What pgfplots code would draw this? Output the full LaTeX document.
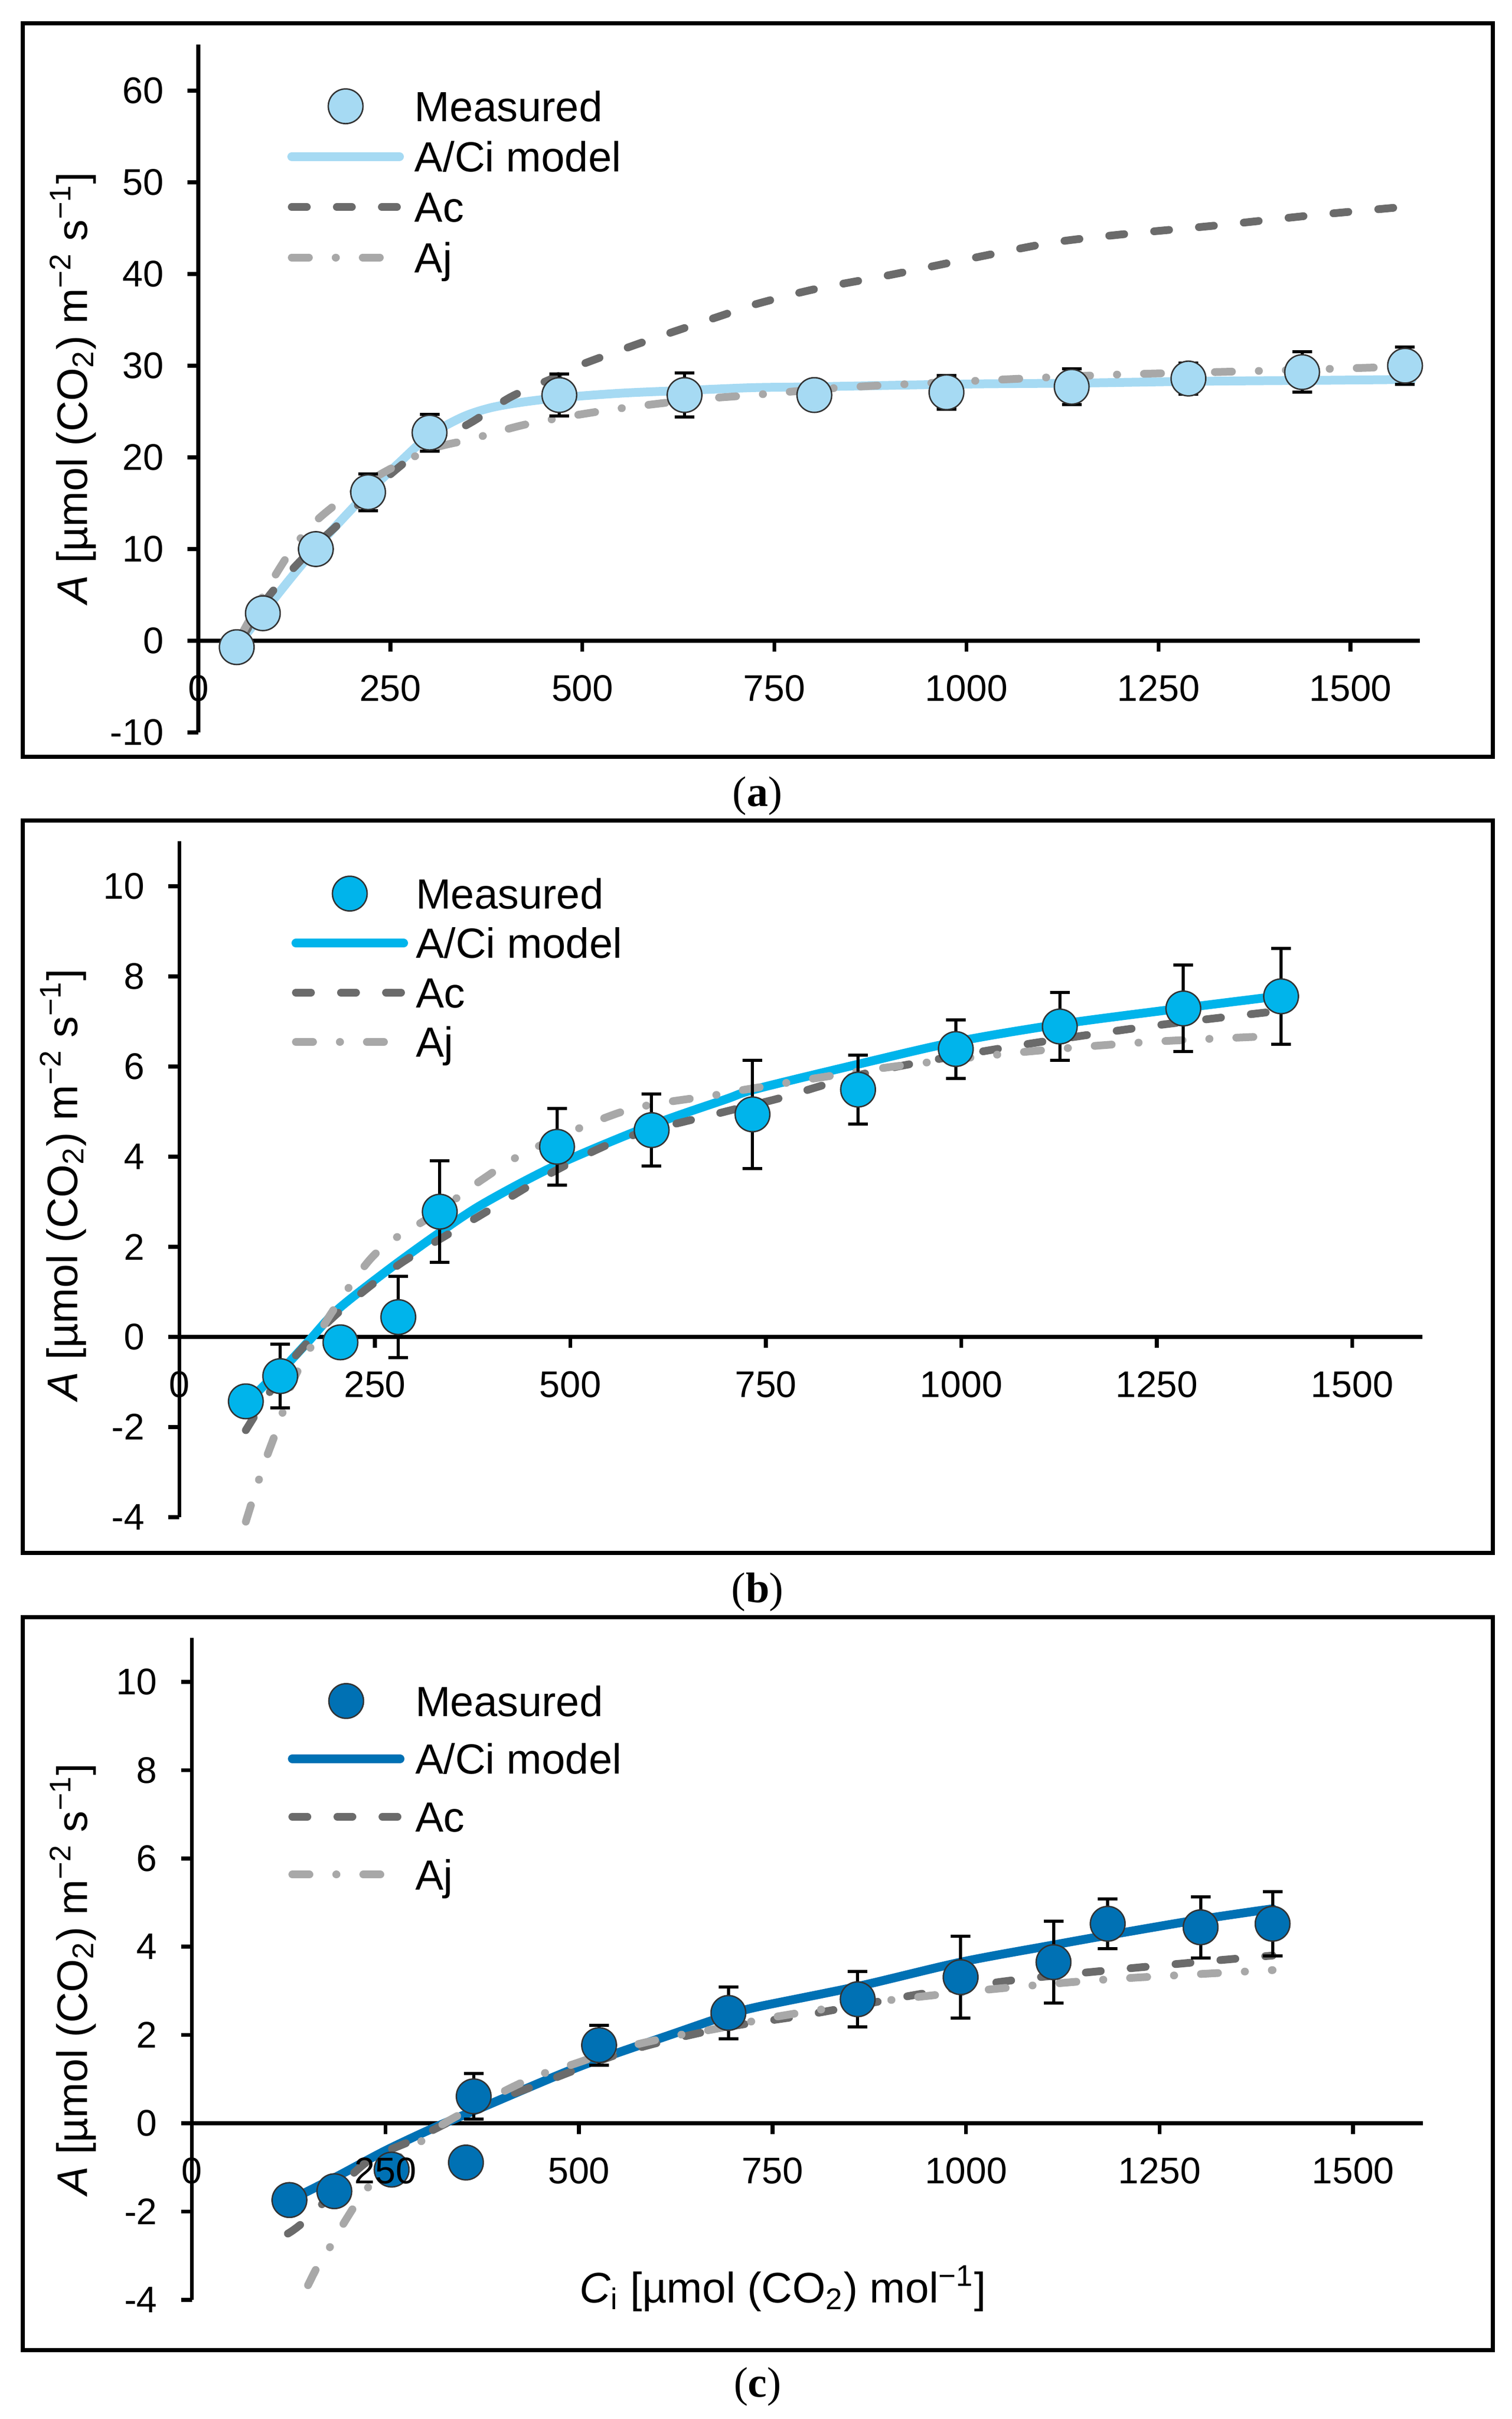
\documentclass[border=0pt]{standalone}
\usepackage{fontspec}
\setmainfont{Liberation Sans}
\newfontfamily\capfont{Liberation Serif}
\usepackage{pgfplots}
\pgfplotsset{compat=1.18}
\usepackage{pgfplotstable}

\definecolor{ca}{HTML}{A6DAF3}
\definecolor{cb}{HTML}{00B4EB}
\definecolor{cc}{HTML}{0071B4}
\definecolor{acc}{HTML}{6B6B6B}
\definecolor{ajc}{HTML}{A8A8A8}
\definecolor{edgec}{HTML}{333333}

% ---------- panel a ----------
\pgfplotstableread{
x y e
50 -0.7 0.4
84 3.0 0.4
153 10.0 0.5
221 16.2 2.0
301 22.7 2.0
470 26.8 2.3
633 26.8 2.4
802 26.8 0.5
974 27.1 1.85
1137 27.7 1.95
1289 28.6 1.7
1437 29.3 2.2
1571 30.0 2.05
}\measA
\pgfplotstableread{
x y
50 -0.6
84 3.0
120 6.8
153 10.1
190 13.5
221 16.2
260 19.3
301 22.4
344 24.4
380 25.4
420 26.0
470 26.5
550 27.0
633 27.3
720 27.6
800 27.7
1000 28.0
1143 28.1
1300 28.3
1450 28.4
1580 28.5
}\modA
\pgfplotstableread{
x y
55 0.0
93 5.0
150 10.2
181 12.6
244 17.7
294 21.0
357 23.9
407 26.6
469 28.9
495 30.0
580 32.6
686 35.6
721 36.6
800 38.3
901 39.9
1000 41.6
1110 43.4
1200 44.3
1326 45.3
1450 46.4
1567 47.3
}\acA
\pgfplotstableread{
x y
55 0.5
87 5.3
119 9.6
150 12.8
189 15.5
238 18.2
303 20.9
356 22.0
432 23.7
537 25.2
646 26.3
722 26.8
836 27.6
999 28.3
1185 29.0
1368 29.4
1571 29.9
}\ajA

% ---------- panel b ----------
\pgfplotstableread{
x y e
85 -1.43 0.3
129 -0.87 0.71
206 -0.12 0.3
280 0.44 0.9
333 2.78 1.13
483 4.22 0.85
604 4.59 0.8
733 4.94 1.2
868 5.49 0.77
993 6.39 0.65
1126 6.89 0.75
1284 7.29 0.96
1409 7.56 1.06
}\measB
\pgfplotstableread{
x y
85 -1.5
110 -1.05
130 -0.75
165 -0.1
202 0.6
264 1.45
325 2.22
387 2.94
483 3.82
604 4.70
698 5.27
737 5.5
865 6.04
993 6.55
1126 6.94
1284 7.3
1404 7.56
}\modB
\pgfplotstableread{
x y
85 -2.07
141 -0.58
202 0.52
282 1.62
387 2.72
483 3.71
572 4.43
698 5.0
768 5.3
890 5.9
1070 6.46
1243 6.9
1404 7.23
}\acB
\pgfplotstableread{
x y
85 -4.1
107 -2.89
128 -1.9
147 -0.91
190 0.41
239 1.62
270 2.12
326 2.72
387 3.49
449 4.15
572 5.03
683 5.36
717 5.47
813 5.74
922 6.02
1083 6.33
1243 6.55
1404 6.68
}\ajB

% ---------- panel c ----------
\pgfplotstableread{
x y e
126 -1.74 0
184 -1.54 0
258 -1.05 0
354 -0.89 0
364 0.61 0.52
526 1.77 0.45
693 2.50 0.59
860 2.81 0.63
993 3.31 0.93
1113 3.65 0.93
1183 4.52 0.56
1303 4.44 0.69
1396 4.52 0.73
}\measC
\pgfplotstableread{
x y
126 -1.75
188 -1.2
250 -0.62
313 -0.1
375 0.36
500 1.28
624 2.04
689 2.43
729 2.63
860 3.10
993 3.65
1113 4.04
1183 4.26
1303 4.62
1396 4.86
}\modC
\pgfplotstableread{
x y
124 -2.5
148 -2.18
225 -0.89
288 -0.36
375 0.40
437 0.81
562 1.63
686 2.16
792 2.45
948 2.95
1065 3.25
1181 3.46
1298 3.65
1396 3.80
}\acC
\pgfplotstableread{
x y
150 -3.67
166 -3.12
182 -2.71
196 -2.27
219 -1.65
250 -1.01
300 -0.36
325 -0.01
406 0.75
450 1.10
493 1.34
553 1.69
624 1.98
674 2.13
760 2.43
883 2.75
1035 3.04
1175 3.25
1311 3.39
1396 3.47
}\ajC

\pgfplotsset{
  layers/labelsontop/.define layer set={
    axis background,axis grid,axis ticks,axis lines,main,axis tick labels,axis descriptions,axis foreground
  }{/pgfplots/layers/standard},
  legend image code/.code={\draw[mark repeat=2,mark phase=2,#1] plot coordinates {(0pt,0pt) (20.8pt,0pt) (41.6pt,0pt)};},
  acistyle/.style={
    set layers=labelsontop,
    axis x line=middle, axis y line=left,
    axis line style={line width=1.5pt, -},
    enlargelimits=false,
    xmin=0, xmax=1590,
    xtick={0,250,...,1500},
    tick align=outside,
    major tick length=4.2pt,
    tick style={line width=1.5pt, black},
    hide obscured x ticks=false, hide obscured y ticks=false,
    tick label style={font=\fontsize{14.3}{17}\selectfont},
    /pgf/number format/assume math mode=true,
    /pgf/number format/1000 sep={},
    yticklabel style={anchor=east, inner sep=0pt, xshift=-9pt},
    xticklabel style={anchor=north, inner sep=0pt, yshift=-9pt},
    clip=false,
    legend cell align=left,
    legend style={draw=none, fill=none, inner sep=0pt, anchor=north west,
      font=\fontsize{16.3}{19}\selectfont},
  },
  modline/.style={line width=3.4pt, line cap=round, smooth},
  acline/.style={acc, line width=3pt, line cap=round, smooth, dash pattern=on 5.8pt off 11.6pt},
  ajline/.style={ajc, line width=3pt, line cap=round, smooth, dash pattern=on 6.6pt off 10.35pt on 0.1pt off 10.35pt},
  ebars/.style={draw=none, mark=none, forget plot,
    error bars/.cd, y dir=both, y explicit, error mark=-,
    error bar style={draw=black, solid, line width=1.2pt},
    error mark options={rotate=90, draw=black, solid, line width=1.2pt, mark size=3.8pt}},
  meas/.style={only marks, mark=*, mark size=6.7pt, mark options={fill=#1, draw=edgec, line width=0.55pt, solid}},
}

\begin{document}
\begin{tikzpicture}
\path (0,0) rectangle (583.8pt,-934pt);

% frames
\draw[line width=1.5pt] (8.8pt,-9pt) rectangle (576.6pt,-292.2pt);
\draw[line width=1.5pt] (8.8pt,-316.8pt) rectangle (576.6pt,-599.6pt);
\draw[line width=1.5pt] (8.8pt,-624.4pt) rectangle (576.6pt,-907.4pt);

% ---------------- (a) ----------------
\begin{axis}[acistyle, at={(76.6pt,-282.8pt)}, anchor=south west,
  x=0.29667pt, y=3.54pt, ymin=-10, ymax=65, ytick={-10,0,...,60},
  legend style={at={(0.0725,0.948)}, column sep=4.2pt, nodes={inner sep=0pt, text height=15.57pt, text depth=3.89pt}}]
\addlegendimage{meas=ca}
\addlegendentry{Measured}
\addlegendimage{ca, line width=3.4pt, line cap=round}
\addlegendentry{A/Ci model}
\addlegendimage{acline}
\addlegendentry{Ac}
\addlegendimage{ajline}
\addlegendentry{Aj}
\addplot[ca, modline, forget plot] table[x=x,y=y] {\modA};
\addplot[acline, forget plot] table[x=x,y=y] {\acA};
\addplot[ajline, forget plot] table[x=x,y=y] {\ajA};
\addplot[ebars] table[x=x,y=y,y error=e] {\measA};
\addplot[meas=ca, forget plot] table[x=x,y=y] {\measA};
\end{axis}
\node[rotate=90, anchor=base, font=\fontsize{16.5}{20}\selectfont] at (33.6pt,-149.8pt)
  {\textit{A} [µmol (CO\textsubscript{2}) m\textsuperscript{−2} s\textsuperscript{−1}]};
\node[font=\capfont\fontsize{16.5}{20}\selectfont] at (292.6pt,-307.4pt) {(\textbf{a})};

% ---------------- (b) ----------------
\begin{axis}[acistyle, at={(69.28pt,-585.78pt)}, anchor=south west,
  x=0.302pt, y=17.396pt, ymin=-4, ymax=11, ytick={-4,-2,...,10},
  legend style={at={(0.0898,0.960)}, column sep=3.0pt, nodes={inner sep=0pt, text height=15.39pt, text depth=3.71pt}}]
\addlegendimage{meas=cb}
\addlegendentry{Measured}
\addlegendimage{cb, line width=3.4pt, line cap=round}
\addlegendentry{A/Ci model}
\addlegendimage{acline}
\addlegendentry{Ac}
\addlegendimage{ajline}
\addlegendentry{Aj}
\addplot[cb, modline, forget plot] table[x=x,y=y] {\modB};
\addplot[acline, forget plot] table[x=x,y=y] {\acB};
\addplot[ajline, forget plot] table[x=x,y=y] {\ajB};
\addplot[ebars] table[x=x,y=y,y error=e] {\measB};
\addplot[meas=cb, forget plot] table[x=x,y=y] {\measB};
\end{axis}
\node[rotate=90, anchor=base, font=\fontsize{16.5}{20}\selectfont] at (29.8pt,-457.4pt)
  {\textit{A} [µmol (CO\textsubscript{2}) m\textsuperscript{−2} s\textsuperscript{−1}]};
\node[font=\capfont\fontsize{16.5}{20}\selectfont] at (292.6pt,-614.8pt) {(\textbf{b})};

% ---------------- (c) ----------------
\begin{axis}[acistyle, at={(74.12pt,-887.96pt)}, anchor=south west,
  x=0.299pt, y=17.04pt, ymin=-4, ymax=11, ytick={-4,-2,...,10},
  legend style={at={(0.0776,0.949)}, column sep=4.2pt, nodes={inner sep=0pt, text height=17.01pt, text depth=5.33pt}}]
\addlegendimage{meas=cc}
\addlegendentry{Measured}
\addlegendimage{cc, line width=3.4pt, line cap=round}
\addlegendentry{A/Ci model}
\addlegendimage{acline}
\addlegendentry{Ac}
\addlegendimage{ajline}
\addlegendentry{Aj}
\addplot[cc, modline, forget plot] table[x=x,y=y] {\modC};
\addplot[acline, forget plot] table[x=x,y=y] {\acC};
\addplot[ajline, forget plot] table[x=x,y=y] {\ajC};
\addplot[ebars] table[x=x,y=y,y error=e] {\measC};
\addplot[meas=cc, forget plot] table[x=x,y=y] {\measC};
\end{axis}
\node[rotate=90, anchor=base, font=\fontsize{16.5}{20}\selectfont] at (33.6pt,-764.2pt)
  {\textit{A} [µmol (CO\textsubscript{2}) m\textsuperscript{−2} s\textsuperscript{−1}]};
\node[anchor=base, font=\fontsize{16.5}{20}\selectfont] at (302.3pt,-889pt)
  {\textit{C}\textsubscript{i} [µmol (CO\textsubscript{2}) mol\textsuperscript{−1}]};
\node[font=\capfont\fontsize{16.5}{20}\selectfont] at (292.6pt,-921.6pt) {(\textbf{c})};
\end{tikzpicture}
\end{document}
